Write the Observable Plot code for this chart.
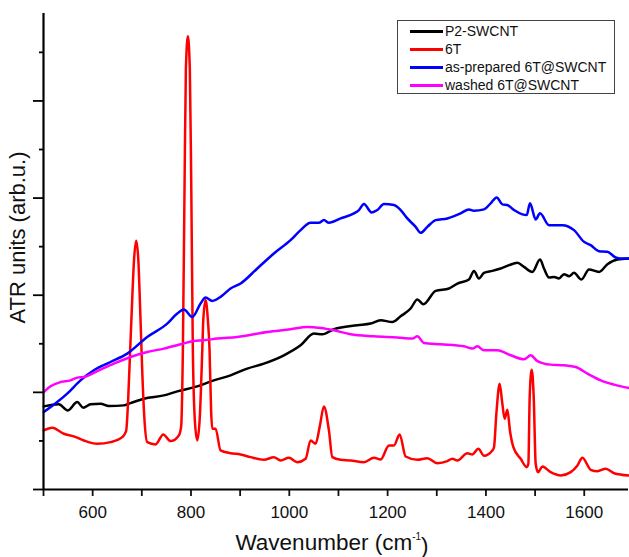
<!DOCTYPE html>
<html>
<head>
<meta charset="utf-8">
<script src="https://cdn.jsdelivr.net/npm/d3@7"></script>
<script src="https://cdn.jsdelivr.net/npm/@observablehq/plot@0.6"></script>
<style>
  html, body { margin: 0; padding: 0; background: #fff; }
  #wrap { position: relative; width: 629px; height: 557px; font-family: "Liberation Sans", Arial, sans-serif; }
  #legend { position: absolute; left: 397px; top: 20px; width: 216px; height: 72px; border: 1px solid #444; background: #fff; }
  .row { position: absolute; left: 0; height: 18px; line-height: 18px; font-size: 14px; color: #111; white-space: nowrap; }
  .sw { position: absolute; left: 12px; top: 7.5px; width: 33px; height: 3px; }
  .lab { position: absolute; left: 47px; top: 0; }
</style>
</head>
<body>
<div id="wrap"></div>
<script>
// ---- data (x: wavenumber cm^-1, y: ATR arbitrary units) ----
const seriesNames = ["P2-SWCNT", "6T", "as-prepared 6T@SWCNT", "washed 6T@SWCNT"];
const seriesColors = ["#000000", "#ff0000", "#0000ff", "#ff00ff"];

const xP2 = [500.6,531.1,549.5,568.6,580.8,595.6,616,632.9,663.4,677,704.1,744.8,772.1,812.8,846.6,880.5,914.5,948.3,989,1023,1050.1,1067.2,1090.8,1138.4,1165.4,1185.8,1209.6,1226.5,1246.8,1260.5,1272.7,1297.7,1324.8,1341.9,1365.5,1375.7,1385.8,1396,1413.1,1430,1446.9,1464,1477.4,1494.5,1510,1518.1,1528.3,1538.5,1548.6,1558.8,1569,1579.2,1594.2,1609.7,1630,1647.1,1667.5,1692.5];
const yP2 = [1.711,1.753,1.629,1.8,1.685,1.753,1.767,1.718,1.732,1.779,1.87,1.938,2.021,2.124,2.247,2.351,2.489,2.592,2.763,2.969,3.21,3.196,3.299,3.381,3.416,3.485,3.449,3.567,3.726,3.911,3.814,4.089,4.138,4.241,4.324,4.501,4.344,4.46,4.501,4.551,4.619,4.666,4.584,4.48,4.736,4.551,4.365,4.377,4.344,4.433,4.392,4.46,4.324,4.53,4.48,4.639,4.736,4.757];

const x6T = [500.6,517.7,541.3,561.7,582,609.3,636.3,660.2,668,672,676,680,684,688.6,693,697,701,705,711,727.9,743.6,758.4,775.3,780,783.5,786.9,789.6,793.7,797.7,800.6,803.8,808,812.8,818,823,825,829.7,834.4,837.8,841,843.3,850,860.2,880.5,900.9,921.2,948.3,968.7,982.3,999.2,1016.3,1033.2,1043.3,1053.5,1062,1070.4,1080.6,1087.5,1104.4,1124.7,1151.8,1172.2,1185.8,1202.7,1212.9,1224.5,1236.7,1260.5,1280.8,1301.2,1321.5,1331.7,1341.9,1362.2,1372.4,1384.6,1396,1413.1,1416.4,1421.2,1427.9,1433,1438.1,1443.6,1449,1455.8,1470.7,1482.9,1486.3,1489,1493.1,1497.2,1501.2,1505.9,1514.8,1531.7,1552.1,1572.4,1586.1,1596.2,1613.1,1626.8,1643.7,1660.6,1691.1];
const y6T = [1.216,1.272,1.148,1.093,1.01,0.942,0.975,1.078,1.2,1.8,2.8,3.8,4.7,5.12,4.7,3.6,2.4,1.5,0.975,0.928,1.134,0.996,1.113,1.3,2.87,6.23,8.64,9.33,8.64,6.23,2.87,1.4,1.01,1.5,2.87,3.485,3.9,3.485,2.87,1.6,1.252,1.252,0.804,0.748,0.722,0.666,0.612,0.666,0.598,0.654,0.563,0.633,1.01,0.942,1.3,1.711,1.216,0.666,0.612,0.598,0.563,0.654,0.619,0.907,0.907,1.134,0.68,0.612,0.645,0.542,0.584,0.633,0.598,0.748,0.722,0.839,0.695,0.804,0.87,1.56,2.179,1.8,1.458,1.643,1.2,0.872,0.633,0.46,0.53,1.9,2.468,1.9,0.53,0.357,0.474,0.357,0.289,0.357,0.495,0.654,0.406,0.377,0.427,0.336,0.289];

const xAsPrep = [500.6,527.9,548.2,575.3,602.4,636.3,670.3,711,751.7,772.1,785.5,802.6,819.5,829.7,843.3,860.2,880.5,900.9,934.9,968.7,1002.6,1023,1043.3,1060.2,1070.4,1080.6,1104.4,1131.5,1141.6,1151.8,1167.5,1179.1,1192.5,1212.9,1226.5,1240.1,1257,1267.2,1280.8,1297.7,1321.5,1348.6,1365.5,1375.7,1396,1409.6,1421.9,1433.4,1443.6,1457.1,1474.2,1482.9,1489.6,1501.2,1510,1528.3,1555.6,1579.2,1599.5,1613.1,1630,1647.1,1664,1674.2,1692.5];
const yAsPrep = [1.594,1.8,1.973,2.247,2.454,2.625,2.798,3.14,3.416,3.623,3.705,3.553,3.829,3.953,3.882,3.965,4.138,4.241,4.551,4.86,5.134,5.34,5.491,5.491,5.546,5.491,5.581,5.685,5.753,5.876,5.705,5.753,5.876,5.856,5.753,5.581,5.408,5.285,5.408,5.546,5.581,5.685,5.767,5.738,5.767,5.891,6.014,5.87,5.856,5.753,5.664,5.649,5.891,5.561,5.685,5.443,5.443,5.34,5.099,5.031,4.907,4.893,4.777,4.757,4.757];

const xWashed = [500.6,514.2,534.6,554.9,568.6,582,609.3,643.1,677,711,744.8,778.8,805.9,826.2,853.5,894.2,955.2,1002.6,1036.6,1063.7,1090.8,1124.7,1172.2,1219.8,1250.3,1260.5,1273.9,1307.9,1355.3,1372.4,1382.6,1396,1423.3,1450.3,1477.4,1491,1504.7,1531.7,1558.8,1582.6,1606.4,1633.5,1660.6,1691.1];
const yWashed = [2.006,2.124,2.212,2.247,2.303,2.315,2.439,2.592,2.728,2.831,2.901,2.99,3.058,3.072,3.107,3.14,3.243,3.299,3.346,3.326,3.278,3.196,3.155,3.128,3.107,3.155,3.016,2.99,2.948,2.901,2.948,2.866,2.866,2.763,2.68,2.763,2.645,2.571,2.557,2.522,2.386,2.247,2.159,2.089];

const xMajorTicks = [600, 800, 1000, 1200, 1400, 1600];
const xAllTicks = [500, 600, 700, 800, 900, 1000, 1100, 1200, 1300, 1400, 1500, 1600];
const yMajorTicks = [0, 2, 4, 6, 8];
const yMinorTicks = [1, 3, 5, 7, 9];
const xTitle = "Wavenumber (cm";
const xTitleSup = "-1";
const yTitle = "ATR units (arb.u.)";

// ---- build table ----
const xs = [xP2, x6T, xAsPrep, xWashed];
const ys = [yP2, y6T, yAsPrep, yWashed];
const rows = [];
seriesNames.forEach((name, i) => {
  xs[i].forEach((x, j) => rows.push({series: name, x, y: ys[i][j]}));
});

const font = "'Liberation Sans', Arial, sans-serif";

const plot = Plot.plot({
  width: 629,
  height: 557,
  marginLeft: 43,
  marginRight: 1,
  marginTop: 13,
  marginBottom: 68,
  style: {fontFamily: font, background: "#fff", overflow: "visible"},
  x: {domain: [500, 1690]},
  y: {domain: [0, 9.8]},
  color: {domain: seriesNames, range: seriesColors},
  marks: [
    ...seriesNames.map(name => Plot.line(rows.filter(d => d.series === name), {
      x: "x", y: "y", stroke: seriesColors[seriesNames.indexOf(name)],
      strokeWidth: 2.5, curve: "monotone-x", strokeLinejoin: "round"
    })),
    Plot.axisX({
      ticks: xAllTicks, tickSize: 7, tickPadding: 9, strokeWidth: 1.8,
      tickFormat: d => xMajorTicks.includes(d) ? String(d) : "",
      fontSize: 17, label: null, color: "#111"
    }),
    Plot.axisY({ticks: yMajorTicks, tickSize: 10, strokeWidth: 1.8, tickFormat: () => "", label: null}),
    Plot.axisY({ticks: yMinorTicks, tickSize: 4, strokeWidth: 1.8, tickFormat: () => "", label: null}),
    Plot.ruleY([0], {strokeWidth: 2.2, stroke: "#000"}),
    Plot.ruleX([500], {strokeWidth: 2.2, stroke: "#000"}),
    Plot.text([yTitle], {frameAnchor: "left", textAnchor: "middle", rotate: -90, dx: -26, dy: -14, fontSize: 22, fill: "#111"}),
    Plot.text([xTitle], {frameAnchor: "bottom", dy: 60, dx: -4, fontSize: 22.5, fill: "#111", textAnchor: "middle"})
  ]
});

document.getElementById("wrap").appendChild(plot);

// superscript on x title
d3.select(plot).selectAll("text").filter(function() { return this.textContent === xTitle; })
  .each(function() {
    const t = d3.select(this);
    t.text(null);
    t.append("tspan").text(xTitle);
    t.append("tspan").attr("font-size", 10).attr("dy", "-1em").text(xTitleSup);
    t.append("tspan").attr("dy", "0.6em").text(")");
  });

// legend
const legend = document.createElement("div");
legend.id = "legend";
const centers = [10, 28, 46, 64];
seriesNames.forEach((name, i) => {
  const row = document.createElement("div");
  row.className = "row";
  row.style.top = (centers[i] - 9) + "px";
  const sw = document.createElement("div");
  sw.className = "sw";
  sw.style.background = seriesColors[i];
  const lab = document.createElement("span");
  lab.className = "lab";
  lab.textContent = name;
  row.appendChild(sw);
  row.appendChild(lab);
  legend.appendChild(row);
});
document.getElementById("wrap").appendChild(legend);
</script>
</body>
</html>
